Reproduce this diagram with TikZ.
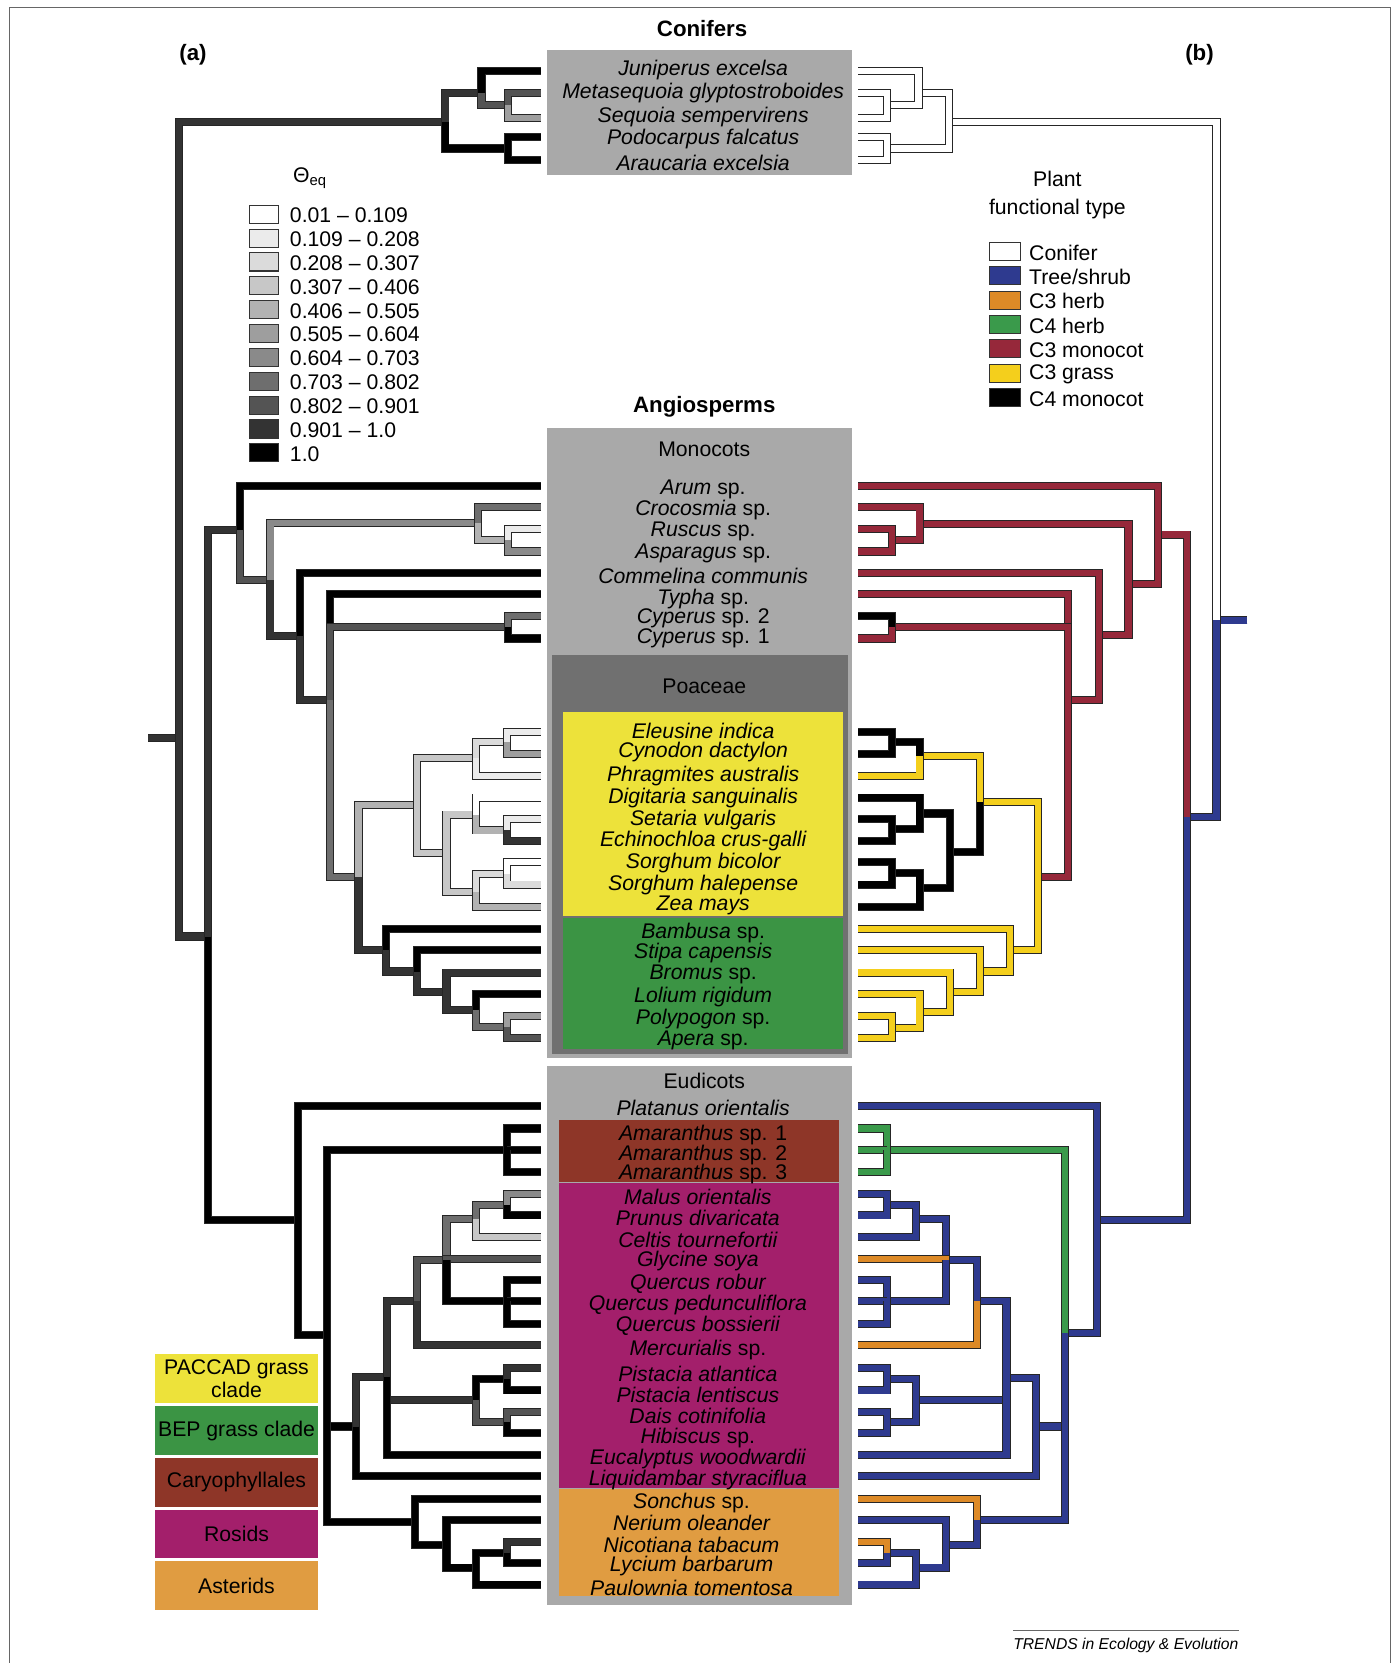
\documentclass[tikz,border=0pt]{standalone}
\usepackage{fontspec}
\setmainfont{Liberation Sans}
\usetikzlibrary{positioning}

\definecolor{boxgray}{HTML}{A9A9A9}
\definecolor{poagray}{HTML}{707070}
\definecolor{paccad}{HTML}{EDE23A}
\definecolor{bep}{HTML}{3B9444}
\definecolor{caryo}{HTML}{8E3628}
\definecolor{rosid}{HTML}{A31F6B}
\definecolor{asterid}{HTML}{E09C41}
\definecolor{tree}{HTML}{2E3A8F}
\definecolor{cthreeherb}{HTML}{DD8A27}
\definecolor{cfourherb}{HTML}{3A9A4B}
\definecolor{cthreemono}{HTML}{96283A}
\definecolor{cthreegrass}{HTML}{F4CF1C}
\definecolor{g0}{gray}{1}
\definecolor{g1}{gray}{0.92}
\definecolor{g2}{gray}{0.86}
\definecolor{g3}{gray}{0.78}
\definecolor{g4}{gray}{0.70}
\definecolor{g5}{gray}{0.62}
\definecolor{g6}{gray}{0.54}
\definecolor{g7}{gray}{0.43}
\definecolor{g8}{gray}{0.33}
\definecolor{g9}{gray}{0.20}
\definecolor{g10}{gray}{0}

\tikzset{
  br/.style={line width=0.45pt, draw=black!85, double=#1, double distance=2.9pt},
  sp/.style={font=\itshape\fontsize{10}{12}\selectfont, inner sep=0pt},
  txt/.style={font=\fontsize{10}{12}\selectfont, inner sep=0pt},
  ttl/.style={font=\bfseries\fontsize{10.5}{12}\selectfont, inner sep=0pt},
  keybox/.style={draw=black!80, line width=0.5pt},
  clade/.style={font=\fontsize{10}{10.5}\selectfont, align=center, minimum width=77pt, minimum height=23pt, inner sep=0pt},
}

\begin{document}
\begin{tikzpicture}[x=0.5pt,y=-0.5pt]
\useasboundingbox (0,0) rectangle (1317,1568);
\draw[black!60, line width=0.5pt] (9,1568) -- (9,7) -- (1311,7) -- (1311,1568);

% species columns
\fill[boxgray] (516,47) rectangle (803,165);
\fill[boxgray] (516,404) rectangle (803,998);
\fill[poagray] (520,618) rectangle (800,994);
\fill[paccad] (531,671) rectangle (795,864);
\fill[bep] (531,866) rectangle (795,989);
\fill[boxgray] (516,1005) rectangle (803,1513);
\fill[caryo] (527,1056) rectangle (791,1114);
\fill[rosid] (527,1115) rectangle (791,1403);
\fill[asterid] (527,1404) rectangle (791,1505);

\node[ttl] (conif) at (662,27) {Conifers};
\node[ttl] (angio) at (664,384) {Angiosperms};
\node[ttl] (pa) at (182,52) {(a)};
\node[ttl] (pb) at (1131,52) {(b)};
\node[txt] (mono) at (664,424) {Monocots};
\node[txt] (poa) at (664,647) {Poaceae};
\node[txt] (eud) at (664,1019) {Eudicots};

% leaves of both trees + names (leaf y / name y / name)
\foreach \y/\ly/\t [count=\i] in {67/63/Juniperus excelsa, 88/85/Metasequoia glyptostroboides,
  111/107/Sequoia sempervirens, 129/128/Podocarpus falcatus, 151/151/Araucaria excelsia,
  458/458/Arum \textup{sp.}, 478/478/Crocosmia \textup{sp.}, 499/498/Ruscus \textup{sp.},
  520/519/Asparagus \textup{sp.}, 540/540/Commelina communis, 560/562/Typha \textup{sp.},
  581/580/Cyperus \textup{sp. 2}, 602/599/Cyperus \textup{sp. 1},
  690/686/Eleusine indica, 711/706/Cynodon dactylon, 732/729/Phragmites australis,
  752/749/Digitaria sanguinalis, 772/770/Setaria vulgaris, 793/790/Echinochloa crus-galli,
  813/811/Sorghum bicolor, 834/831/Sorghum halepense, 855/851/Zea mays,
  876/877/Bambusa \textup{sp.}, 896/896/Stipa capensis, 917/916/Bromus \textup{sp.},
  937/937/Lolium rigidum, 958/958/Polypogon \textup{sp.}, 979/978/Apera \textup{sp.},
  1043/1042/Platanus orientalis, 1064/1067/Amaranthus \textup{sp. 1},
  1084/1086/Amaranthus \textup{sp. 2}, 1105/1104/Amaranthus \textup{sp. 3},
  1126/1126/Malus orientalis, 1146/1145/Prunus divaricata, 1166/1166/Celtis tournefortii,
  1187/1186/Glycine soya, 1207/1207/Quercus robur, 1227/1227/Quercus pedunculiflora,
  1248/1247/Quercus bossierii, 1268/1270/Mercurialis \textup{sp.}, 1290/1292/Pistacia atlantica,
  1311/1312/Pistacia lentiscus, 1331/1332/Dais cotinifolia, 1351/1353/Hibiscus \textup{sp.},
  1372/1373/Eucalyptus woodwardii, 1392/1392/Liquidambar styraciflua,
  1413/1414/Sonchus \textup{sp.}, 1433/1433/Nerium oleander, 1454/1454/Nicotiana tabacum,
  1474/1474/Lycium barbarum, 1494/1494/Paulownia tomentosa}{
  \coordinate (aL\i) at (510,\y);
  \coordinate (bL\i) at (809,\y);
  \pgfmathsetmacro{\lx}{\i>46 ? 652 : (\i>32 ? 658 : 663)}
  \node[sp] (sp\i) at (\lx,\ly+3) {\t};
}

% theta legend
\node[txt, anchor=west] (theta) at (276,168) {Θ\textsubscript{eq}};
\foreach \c/\t [count=\i from 0] in {g0/0.01 – 0.109, g1/0.109 – 0.208,
  g2/0.208 – 0.307, g3/0.307 – 0.406, g4/0.406 – 0.505, g5/0.505 – 0.604,
  g6/0.604 – 0.703, g7/0.703 – 0.802, g8/0.802 – 0.901, g9/0.901 – 1.0, g10/1.0}{
  \draw[keybox, fill=\c] (235,{193.5+22.5*\i}) rectangle +(28,17);
  \node[txt, anchor=west] (th\i) at (273,{203+22.5*\i}) {\t};
}

% functional type legend
\node[txt, align=center] (pft) at (997,184) {Plant\\[1pt]functional type};
\foreach \c/\t [count=\i from 0] in {white/Conifer, tree/{Tree/shrub},
  cthreeherb/C3 herb, cfourherb/C4 herb, cthreemono/C3 monocot,
  cthreegrass/C3 grass, black/C4 monocot}{
  \draw[keybox, fill=\c] (933,{228.5+23*\i}) rectangle +(29,17);
  \node[txt, anchor=west] (pft\i) at (970,{238+23*\i}) {\t};
}

% clade legend
\node[clade, fill=paccad] (kPac) at (223,1300) {PACCAD grass\\clade};
\node[clade, fill=bep, below=1pt of kPac] (kBep) {BEP grass clade};
\node[clade, fill=caryo, below=1pt of kBep] (kCar) {Caryophyllales};
\node[clade, fill=rosid, below=1pt of kCar] (kRos) {Rosids};
\node[clade, fill=asterid, below=1pt of kRos] (kAst) {Asterids};

% tree (a): inner nodes
\foreach \n/\x/\y in {aRoot/169/696, aStub/140/696, aCon/420/115, aCj/454/88,
  aCm/479/99, aCp/479/140, aAng/196/883, aMon/226/500, aM1/255/547,
  aCro/451/493, aRus/479/509, aM2/283/600, aM3/311/660, aCyp/479/591,
  aPoa/338/827, aPac/393/759, aP1/449/715, aP11/478/700, aP2/421/804,
  aP21/449/768, aP211/478/783, aP22/449/841, aP221/478/824, aBep/364/896,
  aB1/393/916, aB2/421/935, aB3/449/952, aB4/478/968, aEud/281/1150,
  aE1/308/1259, aAma/478/1084, aRos/336/1345, aR1/365/1298, aR2/393/1227,
  aR3/449/1320, aR4/421/1188, aR5/449/1149, aMal/478/1136, aQue/478/1227,
  aPis/478/1300, aDai/478/1341, aAst/391/1435, aA1/421/1457, aA2/449/1478,
  aA3/478/1464}
  \coordinate (\n) at (\x,\y);

% tree (b): inner nodes
\foreach \n/\x/\y in {bRoot/1147/585, bStub/1176/585, bCon/895/115, bCj/866/88,
  bCm/836/99, bCp/836/140, bAng/1119/770, bMon/1092/504, bM1/1064/551,
  bCro/867/494, bRus/841/509, bM2/1036/599, bM3/1007/660, bCyp/841/591,
  bPoa/979/827, bPac/924/756, bP1/867/713, bP11/841/700, bP2/896/803,
  bP21/867/767, bP211/841/782, bP22/867/837, bP221/841/823, bBep/952/896,
  bB1/924/916, bB2/896/935, bB3/867/954, bB4/841/969, bEud/1034/1150,
  bE1/1004/1257, bAma/836/1084, bRos/977/1345, bR1/949/1299, bR2/921/1227,
  bR3/864/1320, bR4/892/1188, bR5/864/1149, bMal/836/1136, bQue/836/1227,
  bPis/836/1300, bDai/836/1341, bAst/921/1433, bA1/892/1457, bA2/864/1478,
  bA3/836/1464}
  \coordinate (\n) at (\x,\y);

% branches (a), shaded by theta
\foreach \p/\c/\k in {aStub/aRoot/g9, aRoot/aCon/g9, aCon/aCj/g9, aCj/aL1/g10,
  aCj/aCm/g8, aCm/aL2/g8, aCm/aL3/g5, aCon/aCp/g10, aCp/aL4/g10, aCp/aL5/g10,
  aRoot/aAng/g9, aAng/aMon/g9, aMon/aL6/g10, aMon/aM1/g8, aM1/aCro/g6,
  aCro/aL7/g7, aCro/aRus/g4, aRus/aL8/g1, aRus/aL9/g6, aM1/aM2/g9,
  aM2/aL10/g10, aM2/aM3/g9, aM3/aL11/g10, aM3/aCyp/g8, aCyp/aL12/g7,
  aCyp/aL13/g10, aM3/aPoa/g7,
  aPoa/aPac/g4, aPac/aP1/g3, aP1/aP11/g2, aP11/aL14/g1, aP11/aL15/g5,
  aP1/aL16/g1, aPac/aP2/g3, aP2/aP21/g3, aP21/aL17/g0, aP21/aP211/g4,
  aP211/aL18/g1, aP211/aL19/g9, aP2/aP22/g3, aP22/aP221/g2, aP221/aL20/g0,
  aP221/aL21/g2, aP22/aL22/g4,
  aPoa/aBep/g9, aBep/aL23/g10, aBep/aB1/g9, aB1/aL24/g10, aB1/aB2/g9,
  aB2/aL25/g9, aB2/aB3/g9, aB3/aL26/g10, aB3/aB4/g7, aB4/aL27/g5, aB4/aL28/g8,
  aAng/aEud/g10, aEud/aL29/g10, aEud/aE1/g10, aE1/aAma/g10, aAma/aL30/g10,
  aAma/aL31/g10, aAma/aL32/g10, aE1/aRos/g10, aRos/aR1/g9, aR1/aR2/g9,
  aR2/aR4/g8, aR4/aR5/g7, aR5/aMal/g7, aMal/aL33/g6, aMal/aL34/g10,
  aR5/aL35/g3, aR4/aL36/g8, aR4/aQue/g10, aQue/aL37/g10, aQue/aL38/g10,
  aQue/aL39/g10, aR2/aL40/g9, aR1/aR3/g9, aR3/aPis/g10, aPis/aL41/g9,
  aPis/aL42/g10, aR3/aDai/g8, aDai/aL43/g8, aDai/aL44/g10, aR1/aL45/g10,
  aRos/aL46/g10, aE1/aAst/g10, aAst/aL47/g10, aAst/aA1/g10, aA1/aL48/g10,
  aA1/aA2/g10, aA2/aA3/g10, aA3/aL49/g9, aA3/aL50/g10, aA2/aL51/g10}
  \draw[br=\k] (\p) |- (\c);

% branches (b), coloured by functional type
\foreach \p/\c/\k in {bStub/bRoot/tree, bRoot/bCon/white, bCon/bCj/white,
  bCj/bL1/white, bCj/bCm/white, bCm/bL2/white, bCm/bL3/white, bCon/bCp/white,
  bCp/bL4/white, bCp/bL5/white,
  bRoot/bAng/tree, bAng/bMon/cthreemono, bMon/bL6/cthreemono,
  bMon/bM1/cthreemono, bM1/bCro/cthreemono, bCro/bL7/cthreemono,
  bCro/bRus/cthreemono, bRus/bL8/cthreemono, bRus/bL9/cthreemono,
  bM1/bM2/cthreemono, bM2/bL10/cthreemono, bM2/bM3/cthreemono,
  bM3/bL11/cthreemono, bM3/bCyp/cthreemono, bCyp/bL12/black,
  bCyp/bL13/cthreemono, bM3/bPoa/cthreemono,
  bPoa/bPac/cthreegrass, bPac/bP1/cthreegrass, bP1/bP11/black, bP11/bL14/black,
  bP11/bL15/black, bP1/bL16/cthreegrass, bPac/bP2/black, bP2/bP21/black,
  bP21/bL17/black, bP21/bP211/black, bP211/bL18/black, bP211/bL19/black,
  bP2/bP22/black, bP22/bP221/black, bP221/bL20/black, bP221/bL21/black,
  bP22/bL22/black,
  bPoa/bBep/cthreegrass, bBep/bL23/cthreegrass, bBep/bB1/cthreegrass,
  bB1/bL24/cthreegrass, bB1/bB2/cthreegrass, bB2/bL25/cthreegrass,
  bB2/bB3/cthreegrass, bB3/bL26/cthreegrass, bB3/bB4/cthreegrass,
  bB4/bL27/cthreegrass, bB4/bL28/cthreegrass,
  bAng/bEud/tree, bEud/bL29/tree, bEud/bE1/tree, bE1/bAma/cfourherb,
  bAma/bL30/cfourherb, bAma/bL31/cfourherb, bAma/bL32/cfourherb,
  bE1/bRos/tree, bRos/bR1/tree, bR1/bR2/tree, bR2/bR4/tree, bR4/bR5/tree,
  bR5/bMal/tree, bMal/bL33/tree, bMal/bL34/tree, bR5/bL35/tree,
  bR4/bL36/cthreeherb, bR4/bQue/tree, bQue/bL37/tree, bQue/bL38/tree,
  bQue/bL39/tree, bR2/bL40/cthreeherb, bR1/bR3/tree, bR3/bPis/tree,
  bPis/bL41/tree, bPis/bL42/tree, bR3/bDai/tree, bDai/bL43/tree,
  bDai/bL44/tree, bR1/bL45/tree, bRos/bL46/tree, bE1/bAst/tree,
  bAst/bL47/cthreeherb, bAst/bA1/tree, bA1/bL48/tree, bA1/bA2/tree,
  bA2/bA3/tree, bA3/bL49/cthreeherb, bA3/bL50/tree, bA2/bL51/tree}
  \draw[br=\k] (\p) |- (\c);

% journal line
\node[font=\itshape\fontsize{7.4}{9}\selectfont, inner sep=0pt, anchor=east] (trends) at (1168,1551) {TRENDS in Ecology \& Evolution};
\draw[black!60, line width=0.5pt] ([yshift=3pt]trends.north west) -- ([yshift=3pt]trends.north east);
\end{tikzpicture}
\end{document}
